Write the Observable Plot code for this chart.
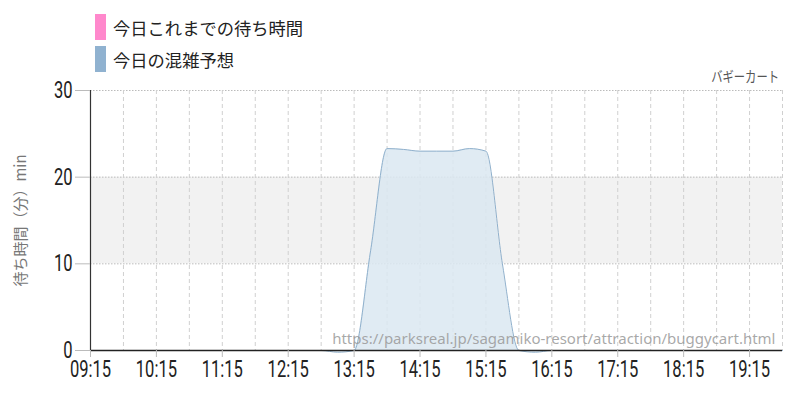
<!DOCTYPE html>
<html><head><meta charset="utf-8">
<script src="https://cdn.jsdelivr.net/npm/d3@7"></script>
<script src="https://cdn.jsdelivr.net/npm/@observablehq/plot@0.6"></script>
<style>
body{margin:0;background:#fff;}
#wrap{position:relative;width:800px;height:400px;font-family:"Noto Sans CJK JP",sans-serif;}
.leg{position:absolute;left:95px;font-size:17.3px;color:#222;display:flex;align-items:center;}
.sw{width:11px;height:26px;margin-right:7px;display:inline-block;}
#title{position:absolute;right:21px;top:65px;font-size:14.5px;color:#555;transform:scaleX(0.78);transform-origin:right center;}
</style></head>
<body><div id="wrap">
<div class="leg" style="top:14px"><span class="sw" style="background:#ff88cc"></span>今日これまでの待ち時間</div>
<div class="leg" style="top:46px"><span class="sw" style="background:#90b2d0"></span>今日の混雑予想</div>
<div id="title">バギーカート</div>
</div>
<script>
const attraction = "バギーカート";
const yLabel = "待ち時間（分）min";
const watermark = "https://parksreal.jp/sagamiko-resort/attraction/buggycart.html";
const times = ["09:15","09:30","09:45","10:00","10:15","10:30","10:45","11:00","11:15","11:30","11:45","12:00","12:15","12:30","12:45","13:00","13:15","13:30","13:45","14:00","14:15","14:30","14:45","15:00","15:15","15:30","15:45","16:00","16:15","16:30","16:45","17:00","17:15","17:30","17:45","18:00","18:15","18:30","18:45","19:00","19:15","19:30","19:45"];
const forecast = [0,0,0,0,0,0,0,0,0,0,0,0,0,0,0,-0.2,0,11.5,23.3,23.2,23,23,23,23.3,23,10,0,-0.2,0,0,0,0,0,0,0,0,0,0,0,0,0,0,0];
const xTicks = ["09:15","10:15","11:15","12:15","13:15","14:15","15:15","16:15","17:15","18:15","19:15"];
const yTicks = [0,10,20,30];

const toMin = s => { const [h,m] = s.split(":").map(Number); return h*60+m; };
const fmt = v => String(Math.floor(v/60)).padStart(2,"0")+":"+String(v%60).padStart(2,"0");
const data = times.map((t,i)=>({x:toMin(t), y:forecast[i]}));
const x0 = toMin(times[0]), x1 = toMin(times[times.length-1]);
const halfHours = d3.range(x0+30, x1+1, 30);

const chart = Plot.plot({
  width:800, height:400,
  marginLeft:90, marginRight:18, marginTop:90, marginBottom:50,
  x:{domain:[x0,x1]},
  y:{domain:[0,30]},
  marks:[
    Plot.rectY([{a:10,b:20}],{x1:x0,x2:x1,y1:"a",y2:"b",fill:"#f2f2f2"}),
    Plot.ruleY([10,20,30],{stroke:"#bbb",strokeDasharray:"1.5,1.5"}),
    Plot.ruleX(halfHours,{stroke:"#d0d0d0",strokeDasharray:"4,3"}),
    Plot.areaY(data,{x:"x",y:"y",curve:"monotone-x",fill:"#dbe7f1",fillOpacity:0.85}),
    Plot.line(data,{x:"x",y:"y",curve:"monotone-x",stroke:"#8fb0cc",strokeWidth:1}),
    Plot.ruleY([0],{stroke:"#222",strokeWidth:1.5}),
    Plot.ruleX([x0],{stroke:"#333",strokeWidth:1.2}),
    Plot.axisY({ticks:yTicks, tickSize:15, tickPadding:3, stroke:"#bbb", fontSize:23, fill:"#222",
      label:yLabel, labelAnchor:"center", labelArrow:"none", labelOffset:75}),
    Plot.axisX({ticks:xTicks.map(toMin), tickFormat:fmt, tickSize:7, tickPadding:3, stroke:"#bbb", fontSize:23, fill:"#222", label:null}),
    Plot.text([watermark],{x:x1, y:0, text:d=>d, textAnchor:"end", dx:-7, dy:-11, fontSize:15, fill:"#999", fillOpacity:0.85})
  ]
});
chart.style.position="absolute"; chart.style.left="0"; chart.style.top="0";
d3.select(chart).selectAll("g[aria-label='y-axis tick label'] text, g[aria-label='x-axis tick label'] text")
  .attr("font-family","Roboto")
  .attr("transform", function(){ return (this.getAttribute("transform")||"") + " scale(0.72,1)"; });
d3.select(chart).selectAll("g[aria-label='y-axis label'] text").attr("fill","#777").attr("font-size",15).attr("font-family","Noto Sans CJK JP");
document.getElementById("wrap").prepend(chart);
</script>
</body></html>
